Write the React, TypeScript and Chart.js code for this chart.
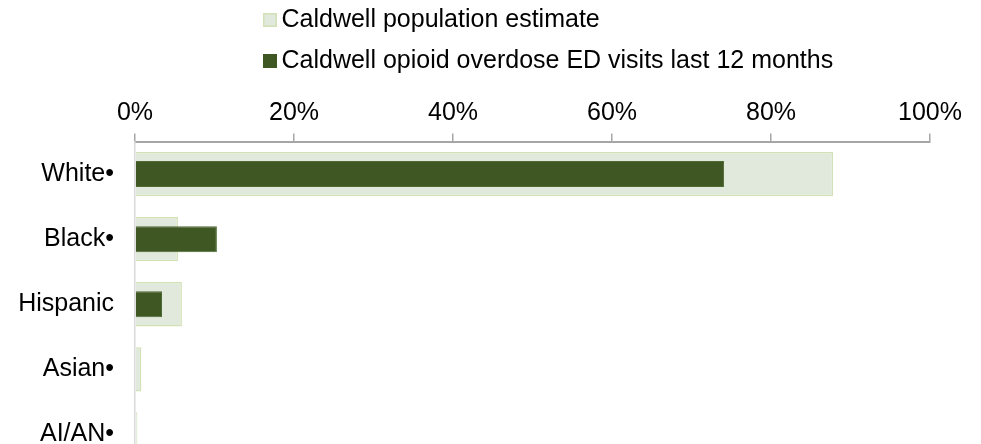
import React, { useEffect, useRef } from "react";
import { Chart, registerables } from "chart.js";

Chart.register(...registerables);

const categories = ["White•", "Black•", "Hispanic", "Asian•", "AI/AN•"];
const populationEstimate = [87.8, 5.4, 5.9, 0.8, 0.3];
const edVisits = [74.1, 10.3, 3.4, 0, 0];
const xTicks = [0, 20, 40, 60, 80, 100];
const legendLabels = [
  "Caldwell population estimate",
  "Caldwell opioid overdose ED visits last 12 months",
];

const FONT = "'Liberation Sans', Arial, sans-serif";
const LIGHT_FILL = "#E0E9DC";
const LIGHT_BORDER = "#D3E1B6";
const DARK_FILL = "#3E5723";
const DARK_BORDER = "#4E6A33";

const legendPlugin = {
  id: "stackedLegend",
  afterDraw(chart: any) {
    const ctx = chart.ctx;
    const items = [
      { label: legendLabels[0], fill: LIGHT_FILL, border: LIGHT_BORDER, box: 13, base: 27 },
      { label: legendLabels[1], fill: DARK_FILL, border: DARK_FILL, box: 54, base: 68 },
    ];
    ctx.save();
    ctx.font = `25px ${FONT}`;
    ctx.textBaseline = "alphabetic";
    ctx.textAlign = "left";
    for (const it of items) {
      ctx.fillStyle = it.fill;
      ctx.fillRect(263, it.box, 14, 14);
      ctx.strokeStyle = it.border;
      ctx.lineWidth = 1.5;
      ctx.strokeRect(263.75, it.box + 0.75, 12.5, 12.5);
      ctx.fillStyle = "#000";
      ctx.fillText(it.label, 281.5, it.base);
    }
    ctx.restore();
  },
};

export default function App() {
  const ref = useRef<HTMLCanvasElement>(null);
  useEffect(() => {
    document.body.style.margin = "0";
    const chart = new Chart(ref.current!, {
      type: "bar",
      data: {
        labels: categories,
        datasets: [
          {
            label: legendLabels[0],
            data: populationEstimate,
            backgroundColor: LIGHT_FILL,
            borderColor: LIGHT_BORDER,
            borderWidth: 1.5,
            barPercentage: 0.68,
            categoryPercentage: 1,
            grouped: false,
            order: 2,
          },
          {
            label: legendLabels[1],
            data: edVisits,
            backgroundColor: DARK_FILL,
            borderColor: DARK_BORDER,
            borderWidth: 1,
            barPercentage: 0.4,
            categoryPercentage: 1,
            grouped: false,
            order: 1,
          },
        ],
      },
      options: {
        indexAxis: "y",
        responsive: false,
        animation: false,
        layout: { padding: { top: 85, right: 51, left: 0, bottom: 0 } },
        plugins: {
          legend: { display: false },
          tooltip: { enabled: false },
        },
        scales: {
          x: {
            position: "top",
            min: 0,
            max: 100,
            afterBuildTicks: (s: any) => {
              s.ticks = xTicks.map((v) => ({ value: v }));
            },
            afterFit: (s: any) => {
              s.height = 56.5;
            },
            grid: {
              drawOnChartArea: false,
              drawTicks: true,
              tickLength: 8,
              color: "#A6A6A6",
              lineWidth: 1.5,
            },
            border: { display: true, color: "#A6A6A6", width: 2 },
            ticks: {
              padding: 5,
              color: "#000",
              font: { family: FONT, size: 25 },
              callback: (v: any) => `${v}%`,
            },
          },
          y: {
            afterFit: (s: any) => {
              s.width = 135;
            },
            grid: { display: false, drawTicks: false },
            border: { display: true, color: "#D9D9D9", width: 1.5 },
            ticks: {
              padding: 21,
              color: "#000",
              font: { family: FONT, size: 25 },
            },
          },
        },
      },
      plugins: [legendPlugin],
    } as any);
    return () => chart.destroy();
  }, []);
  return (
    <div style={{ position: "absolute", left: 0, top: 0, width: 981, height: 444, overflow: "hidden" }}>
      <canvas ref={ref} width={981} height={503} />
    </div>
  );
}
